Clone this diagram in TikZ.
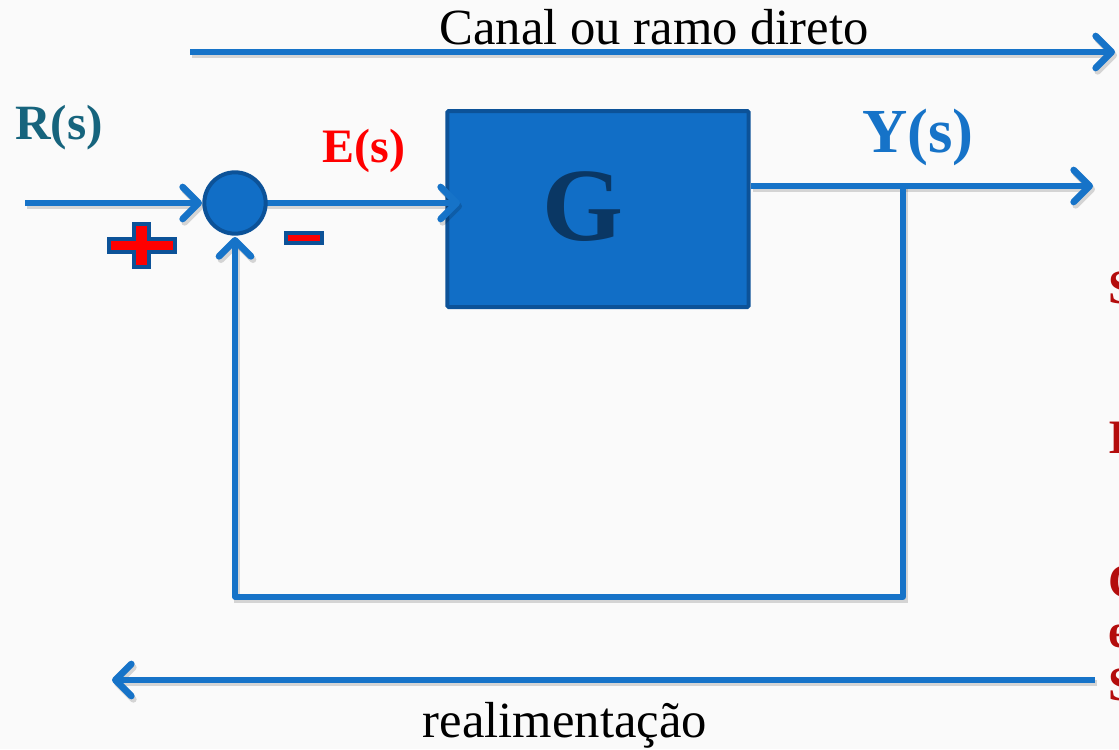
\documentclass[tikz,border=0pt]{standalone}
\usepackage{fontspec}
\setmainfont{Liberation Serif}
\usetikzlibrary{arrows.meta}
\definecolor{lineblue}{RGB}{22,115,200}
\definecolor{boxfill}{RGB}{17,110,198}
\definecolor{boxedge}{RGB}{12,82,152}
\definecolor{gtext}{RGB}{10,55,100}
\definecolor{rteal}{RGB}{22,100,125}
\definecolor{darkred}{RGB}{180,12,12}
\definecolor{bgc}{RGB}{250,250,250}
\tikzset{
  conn/.style={draw=lineblue, line width=3.8pt, line join=round,
    preaction={draw=black, opacity=0.15, line width=4.5pt, transform canvas={shift={(1.5pt,-2.5pt)}}}},
  arr/.style={conn, -{Straight Barb[length=12pt,width=24pt,line width=5pt,round]}},
  sumnode/.style={circle, minimum size=46pt, inner sep=0pt, fill=boxfill, draw=boxedge, line width=3pt},
  block/.style={rectangle, minimum width=226pt, minimum height=147pt, fill=boxfill, draw=boxedge, line width=3pt, rounded corners=1pt},
  lbl/.style={inner sep=0pt, anchor=base},
  sign/.style={fill=red, draw=boxedge, line width=3pt},
  edge/.style={inner sep=0pt, anchor=base west, text=darkred, font=\fontsize{36}{38}\selectfont\bfseries}
}
\begin{document}
\begin{tikzpicture}[x=0.75pt,y=-0.75pt]
\useasboundingbox (0,0) rectangle (1119,749);
\clip (0,0) rectangle (1119,749);
\fill[bgc] (0,0) rectangle (1119,749);

% coordinates
\coordinate (ts) at (190,52);
\coordinate (te) at (1115,52);
\coordinate (in) at (25,203);
\coordinate (gin) at (460,203);
\coordinate (br) at (903,186);
\coordinate (out) at (1093,186);
\coordinate (fbr) at (903,597);
\coordinate (fbl) at (235,597);
\coordinate (bs) at (1095,680);
\coordinate (be) at (112,680);

% nodes
\node[block] (G) at (598,209) {};
\node[lbl, text=gtext, font=\fontsize{78}{80}\selectfont\bfseries] (glabel) at (583,240) {G};

% connectors
\draw[arr] (ts) -- (te);
\draw[arr] (bs) -- (be);
\draw[arr] (in) -- (235-33,203);
\draw[arr] (235+30,203) -- (gin);
\draw[conn] (G.east |- br) -- (br);
\draw[arr] (br) -- (out);
\draw[arr] (br) -- (fbr) -- (fbl) -- (235,237);

\node[sumnode] (sum) at (235,203) {};

% signs
\draw[sign] (109,239) -- (134,239) -- (134,224) -- (149,224) -- (149,239) -- (175,239)
  -- (175,252) -- (149,252) -- (149,267) -- (134,267) -- (134,252) -- (109,252) -- cycle;
\draw[sign] (286,233) rectangle (322,243);

% labels
\node[lbl, text=black, font=\fontsize{38}{40}\selectfont] (canal) at (654,45) {Canal ou ramo direto};
\node[lbl, text=black, font=\fontsize{38}{40}\selectfont] (realim) at (565,737) {realimentação};
\node[lbl, text=rteal, font=\fontsize{37}{40}\selectfont\bfseries] (R) at (59,139) {R(s)};
\node[lbl, text=red, font=\fontsize{36}{40}\selectfont\bfseries] (E) at (364,162) {E(s)};
\node[lbl, text=lineblue, font=\fontsize{47}{50}\selectfont\bfseries] (Y) at (918,152) {Y(s)};

% cut-off text at right edge (as in the reference)
\node[edge] (c1) at (1108,303) {S};
\node[edge] (c2) at (1108,453) {I};
\node[edge] (c3) at (1108,597) {C};
\node[edge] (c4) at (1108,647) {e};
\node[edge] (c5) at (1108,700) {S};
\end{tikzpicture}
\end{document}
